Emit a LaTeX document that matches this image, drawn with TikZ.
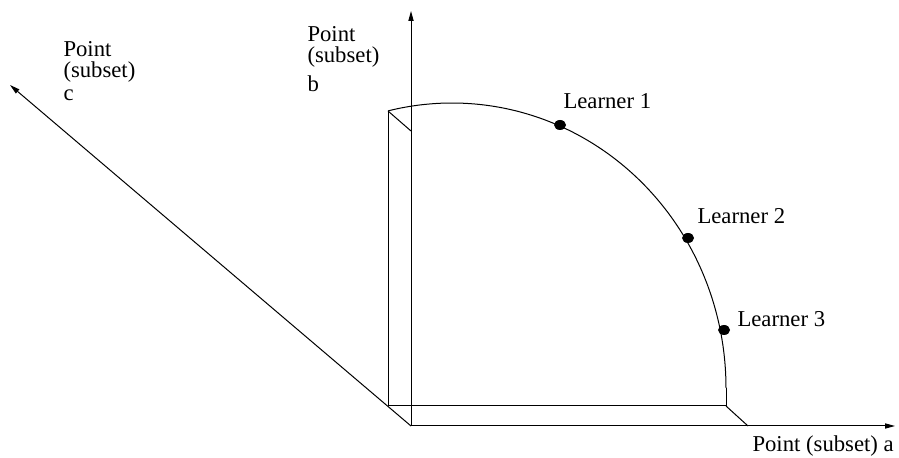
\documentclass[tikz,border=0pt]{standalone}
\usepackage{fontspec}
\setmainfont{Liberation Serif}
\usetikzlibrary{arrows.meta,shapes.geometric}
\begin{document}
\begin{tikzpicture}[x=0.5pt,y=-0.5pt,line width=0.5pt,
  axis/.style={-{Triangle[length=5pt,width=2.6pt]}},
  lbl/.style={font=\fontsize{11.35}{13}\selectfont,inner sep=0pt,anchor=base west},
  dot/.style={ellipse,fill,inner sep=0pt,minimum width=6pt,minimum height=5pt}]
\useasboundingbox (0,0) rectangle (899,458);
% axes
\coordinate (O) at (411,426);
\coordinate (ta) at (895,426);
\coordinate (tb) at (411,11);
\coordinate (tc) at (10,85);
\draw[axis] (O) -- (ta);
\draw[axis] (O) -- (tb);
\draw[axis] (O) -- (tc);
% box
\coordinate (B0) at (388,406);
\coordinate (B1) at (388,111);
\coordinate (B2) at (726,406);
\coordinate (B1f) at (411,131);
\coordinate (B2f) at (748,426);
\coordinate (Aend) at (726,388);
\draw (B0) -- (B1);
\draw (B0) -- (B2);
\draw (B1) -- (B1f);
\draw (B2) -- (B2f);
\draw (B2) -- (Aend);
\draw plot[domain=103.5:0,samples=80,smooth] ({452+274*cos(\x)},{388-285*sin(\x)});
% learners
\node[dot] (l1) at (560,125) {};
\node[dot] (l2) at (688,238) {};
\node[dot] (l3) at (724,330) {};
\node[lbl] (t1) at (563,109) {Learner 1};
\node[lbl] (t2) at (697,224) {Learner 2};
\node[lbl] (t3) at (737,327) {Learner 3};
% axis labels
\node[lbl] (la) at (752,452) {Point (subset) a};
\node[lbl] (lb1) at (307,42) {Point};
\node[lbl] (lb2) at (307,63) {(subset)};
\node[lbl] (lb3) at (307,92) {b};
\node[lbl] (lc1) at (63,57) {Point};
\node[lbl] (lc2) at (63,78) {(subset)};
\node[lbl] (lc3) at (63,101) {c};
\end{tikzpicture}
\end{document}
